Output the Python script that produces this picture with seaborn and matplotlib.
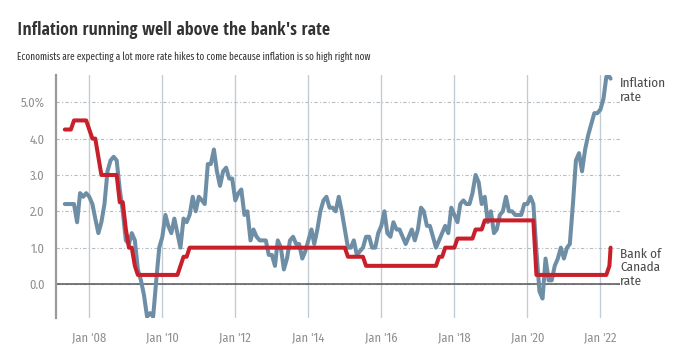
import matplotlib
matplotlib.use("Agg")
import matplotlib.dates as mdates
import matplotlib.pyplot as plt
import matplotlib.transforms as mtransforms
import pandas as pd
import seaborn as sns

# monthly readings, Apr 2007 .. Mar 2022, each dated the first of the following month,
# plus one last reading mid-April 2022
first_date = "2007-05-01"
last_date = "2022-04-13"

inflation = [
    2.2, 2.2, 2.2, 2.2, 1.7, 2.5, 2.4, 2.5, 2.4,                  # 2007 Apr-Dec
    2.2, 1.8, 1.4, 1.7, 2.2, 3.1, 3.4, 3.5, 3.4, 2.6, 2.0, 1.2,   # 2008
    1.1, 1.4, 1.2, 0.4, 0.1, -0.3, -0.9, -0.8, -0.9, 0.1, 1.0, 1.3,
    1.9, 1.6, 1.4, 1.8, 1.4, 1.0, 1.8, 1.7, 1.9, 2.4, 2.0, 2.4,
    2.3, 2.2, 3.3, 3.3, 3.7, 3.1, 2.7, 3.1, 3.2, 2.9, 2.9, 2.3,
    2.5, 2.6, 1.9, 2.0, 1.2, 1.5, 1.3, 1.2, 1.2, 1.2, 0.8, 0.8,
    0.5, 1.2, 1.0, 0.4, 0.7, 1.2, 1.3, 1.1, 1.1, 0.7, 0.9, 1.2,
    1.5, 1.1, 1.5, 2.0, 2.3, 2.4, 2.1, 2.1, 2.0, 2.4, 2.0, 1.5,
    1.0, 1.0, 1.2, 0.8, 0.9, 1.0, 1.3, 1.3, 1.0, 1.0, 1.4, 1.6,
    2.0, 1.4, 1.3, 1.7, 1.5, 1.5, 1.3, 1.1, 1.3, 1.5, 1.2, 1.5,
    2.1, 2.0, 1.6, 1.6, 1.3, 1.0, 1.2, 1.4, 1.6, 1.4, 2.1, 1.9,
    1.7, 2.2, 2.3, 2.2, 2.2, 2.5, 3.0, 2.8, 2.2, 2.4, 1.7, 2.0,
    1.4, 1.5, 1.9, 2.0, 2.4, 2.0, 2.0, 1.9, 1.9, 1.9, 2.2, 2.2,
    2.4, 2.2, 0.9, -0.2, -0.4, 0.7, 0.1, 0.1, 0.5, 0.7, 1.0, 0.7,
    1.0, 1.1, 2.2, 3.4, 3.6, 3.1, 3.7, 4.1, 4.4, 4.7, 4.7, 4.8,
    5.1, 5.7, 5.7,                                                # 2022 Jan-Mar
    5.65,
]

bank_rate = [
    4.25, 4.25, 4.25, 4.5, 4.5, 4.5, 4.5, 4.5, 4.25,
    4.0, 4.0, 3.5, 3.0, 3.0, 3.0, 3.0, 3.0, 3.0, 2.25, 2.25, 1.5,
    1.0, 1.0, 0.5, 0.25, 0.25, 0.25, 0.25, 0.25, 0.25, 0.25, 0.25, 0.25,
    0.25, 0.25, 0.25, 0.25, 0.25, 0.5, 0.75, 0.75, 1.0, 1.0, 1.0, 1.0,
    1.0, 1.0, 1.0, 1.0, 1.0, 1.0, 1.0, 1.0, 1.0, 1.0, 1.0, 1.0,
    1.0, 1.0, 1.0, 1.0, 1.0, 1.0, 1.0, 1.0, 1.0, 1.0, 1.0, 1.0,
    1.0, 1.0, 1.0, 1.0, 1.0, 1.0, 1.0, 1.0, 1.0, 1.0, 1.0, 1.0,
    1.0, 1.0, 1.0, 1.0, 1.0, 1.0, 1.0, 1.0, 1.0, 1.0, 1.0, 1.0,
    0.75, 0.75, 0.75, 0.75, 0.75, 0.75, 0.5, 0.5, 0.5, 0.5, 0.5, 0.5,
    0.5, 0.5, 0.5, 0.5, 0.5, 0.5, 0.5, 0.5, 0.5, 0.5, 0.5, 0.5,
    0.5, 0.5, 0.5, 0.5, 0.5, 0.5, 0.75, 0.75, 1.0, 1.0, 1.0, 1.0,
    1.25, 1.25, 1.25, 1.25, 1.25, 1.25, 1.5, 1.5, 1.5, 1.75, 1.75, 1.75,
    1.75, 1.75, 1.75, 1.75, 1.75, 1.75, 1.75, 1.75, 1.75, 1.75, 1.75, 1.75,
    1.75, 1.75, 0.25, 0.25, 0.25, 0.25, 0.25, 0.25, 0.25, 0.25, 0.25, 0.25,
    0.25, 0.25, 0.25, 0.25, 0.25, 0.25, 0.25, 0.25, 0.25, 0.25, 0.25, 0.25,
    0.25, 0.25, 0.5,
    1.0,
]

series_labels = ["Inflation\nrate", "Bank of\nCanada\nrate"]
y_ticks = [0, 1, 2, 3, 4, 5]
y_tick_labels = ["0.0", "1.0", "2.0", "3.0", "4.0", "5.0%"]

title = "Inflation running well above the bank's rate"
subtitle = "Economists are expecting a lot more rate hikes to come because inflation is so high right now"

BLUE = "#6e8ea6"
RED = "#c8202b"
TITLE_FONT = ["Open Sans Condensed", "DejaVu Sans"]
BODY_FONT = ["Fira Sans Condensed", "DejaVu Sans"]
SUB_FONT = ["Fira Sans Extra Condensed", "Fira Sans Condensed", "DejaVu Sans"]


def build_frame():
    dates = list(pd.date_range(first_date, periods=len(inflation) - 1, freq="MS"))
    dates.append(pd.Timestamp(last_date))
    df = pd.DataFrame({"date": dates, "Inflation": inflation, "Bank rate": bank_rate})
    return df.melt(id_vars="date", var_name="series", value_name="rate"), df


def fit_width(fig, txt, target_px):
    # scale the font so the text spans about as wide as in the reference
    r = fig.canvas.get_renderer()
    w = txt.get_window_extent(renderer=r).width
    txt.set_fontsize(txt.get_fontsize() * target_px / w)


def main():
    sns.set_theme(style="white")
    plt.rcParams["font.family"] = BODY_FONT

    long_df, wide_df = build_frame()
    fig = plt.figure(figsize=(6.87, 3.53), dpi=100)
    ax = fig.add_axes([56 / 687, 1 - 318 / 353, (620 - 56) / 687, (318 - 75) / 353])

    ax.grid(axis="x", color="#c3ccd3", linewidth=1.0, linestyle="-")
    ax.grid(axis="y", color="#b3bcc3", linewidth=0.8, linestyle=(0, (3, 2, 1, 2)))
    ax.set_axisbelow(True)
    ax.axhline(0, color="#555555", linewidth=1.1, zorder=1)

    sns.lineplot(data=long_df, x="date", y="rate", hue="series",
                 palette={"Inflation": BLUE, "Bank rate": RED},
                 linewidth=2.9, legend=False, ax=ax, zorder=3,
                 solid_capstyle="round", solid_joinstyle="round")

    ax.set_xlim(pd.Timestamp("2007-02-02"), pd.Timestamp("2022-07-16"))
    ax.set_ylim(-0.935, 5.75)
    ax.xaxis.set_major_locator(mdates.YearLocator(2))
    ax.xaxis.set_major_formatter(mdates.DateFormatter("Jan '%y"))
    ax.set_yticks(y_ticks)
    ax.set_yticklabels(y_tick_labels)
    ax.set_xlabel("")
    ax.set_ylabel("")

    for s in ["top", "right", "bottom"]:
        ax.spines[s].set_visible(False)
    ax.spines["left"].set_color("#9a9a9a")
    ax.spines["left"].set_linewidth(1.6)

    ax.tick_params(axis="both", which="major", length=4, width=1.0, color="#333333",
                   labelcolor="#8f8f8f", labelsize=9, direction="out")
    ax.tick_params(axis="x", pad=6)
    ax.tick_params(axis="y", pad=4)
    for lab in ax.get_xticklabels() + ax.get_yticklabels():
        lab.set_fontweight("normal")

    # end-of-line labels next to the last value of each series
    trans = mtransforms.blended_transform_factory(ax.transAxes, ax.transData)
    last_vals = [wide_df["Inflation"].max(), wide_df["Bank rate"].iloc[-1]]
    for label, val in zip(series_labels, last_vals):
        ax.text(1.0, val, label, transform=trans, ha="left", va="top",
                fontsize=9.5, color="#4a4a4a", linespacing=1.15, fontweight="normal",
                clip_on=False)

    t = fig.text(17 / 687, 1 - 35 / 353, title, fontsize=13, fontweight="bold",
                 family=TITLE_FONT, color="#333333", va="baseline", ha="left")
    st = fig.text(17 / 687, 1 - 60 / 353, subtitle, fontsize=8.5, fontweight="normal",
                  family=SUB_FONT, color="#333333", va="baseline", ha="left")
    fit_width(fig, t, 313)
    fit_width(fig, st, 355)

    fig.savefig("out.png", dpi=100)


if __name__ == "__main__":
    main()
